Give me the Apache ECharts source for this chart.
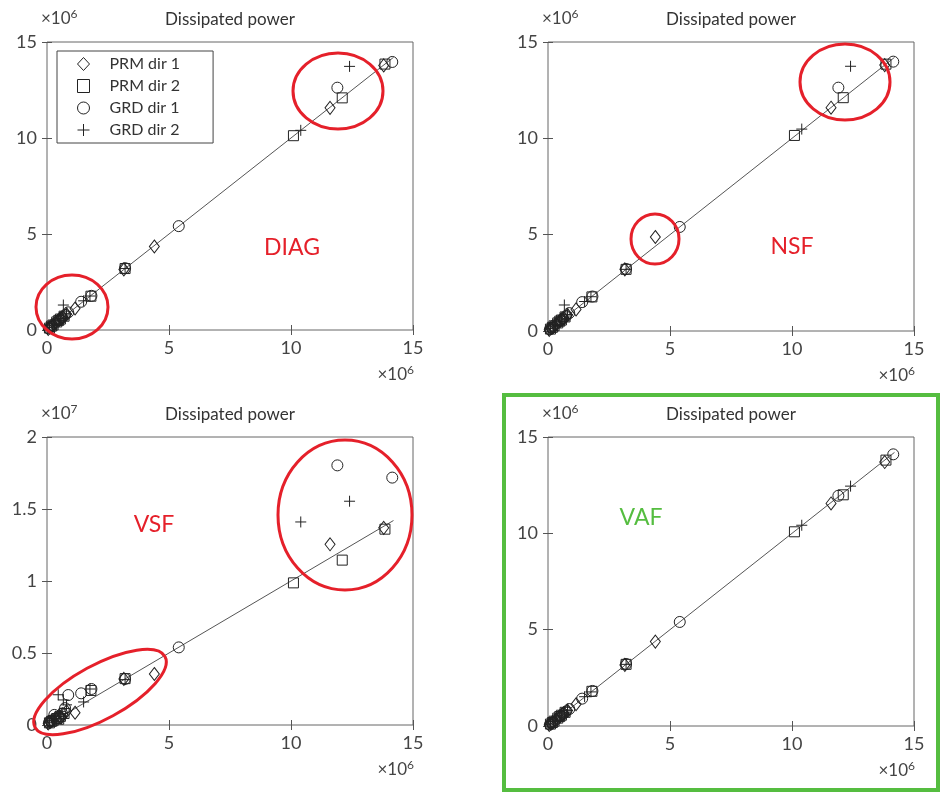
<!DOCTYPE html>
<html><head><meta charset="utf-8">
<script src="https://cdn.jsdelivr.net/npm/echarts@6/dist/echarts.min.js"></script>
<style>html,body{margin:0;padding:0;background:#fff}#c{width:940px;height:792px}</style>
</head><body><div id="c"></div>
<script>
// ---- DATA (values in units of 10^6) ----
const seriesNames = ['PRM dir 1', 'PRM dir 2', 'GRD dir 1', 'GRD dir 2'];
const panelLabels = ['DIAG', 'NSF', 'VSF', 'VAF'];
const panelTitle = 'Dissipated power';
const xTicks = [0, 5, 10, 15];
const yTicks = [0, 5, 10, 15];
const yTicksVSF = [0, 0.5, 1, 1.5, 2];

// reference (x) values per series
const xPRM1 = [0.05, 0.12, 0.2, 0.35, 0.5, 0.58, 0.65, 0.8, 1.15, 3.15, 4.4, 11.6, 13.8];
const xPRM2 = [0.1, 0.18, 0.25, 0.4, 0.48, 0.55, 0.7, 1.8, 3.2, 10.1, 12.1, 13.85];
const xGRD1 = [0.08, 0.15, 0.3, 0.5, 0.62, 0.74, 0.87, 1.4, 1.82, 3.2, 5.4, 11.9, 14.15];
const xGRD2 = [0.1, 0.22, 0.3, 0.46, 0.55, 0.67, 0.8, 1.5, 1.76, 3.2, 10.4, 12.4];

// DIAG
const yDiagPRM1 = [0.05, 0.13, 0.22, 0.38, 0.52, 0.6, 0.66, 0.82, 1.12, 3.15, 4.35, 11.57, 13.78];
const yDiagPRM2 = [0.1, 0.2, 0.26, 0.42, 0.5, 0.57, 0.72, 1.76, 3.2, 10.12, 12.09, 13.85];
const yDiagGRD1 = [0.08, 0.16, 0.33, 0.52, 0.66, 0.78, 0.92, 1.47, 1.78, 3.22, 5.41, 12.62, 13.96];
const yDiagGRD2 = [0.12, 0.25, 0.32, 0.5, 0.6, 1.3, 0.84, 1.52, 1.77, 3.2, 10.4, 13.73];
// NSF
const yNsfPRM1 = [0.06, 0.14, 0.2, 0.37, 0.52, 0.61, 0.66, 0.83, 1.12, 3.2, 4.88, 11.59, 13.8];
const yNsfPRM2 = [0.1, 0.19, 0.27, 0.42, 0.51, 0.57, 0.73, 1.77, 3.2, 10.15, 12.11, 13.85];
const yNsfGRD1 = [0.09, 0.17, 0.34, 0.53, 0.66, 0.78, 0.93, 1.5, 1.79, 3.22, 5.4, 12.63, 13.98];
const yNsfGRD2 = [0.12, 0.26, 0.33, 0.5, 0.62, 1.35, 0.85, 1.53, 1.78, 3.2, 10.48, 13.74];
// VSF
const yVsfPRM1 = [0.1, 0.2, 0.3, 0.5, 0.6, 0.55, 0.75, 0.95, 0.85, 3.2, 3.54, 12.55, 13.69];
const yVsfPRM2 = [0.15, 0.25, 0.3, 0.45, 0.4, 0.6, 0.8, 2.4, 3.22, 9.87, 11.45, 13.6];
const yVsfGRD1 = [0.15, 0.3, 0.7, 0.5, 0.8, 1.17, 2.08, 2.2, 2.5, 3.2, 5.39, 18.03, 17.18];
const yVsfGRD2 = [0.2, 0.3, 0.45, 2.1, 0.6, 1.74, 1.4, 1.6, 2.5, 3.15, 14.1, 15.54];
// VAF
const yVafPRM1 = [0.05, 0.12, 0.2, 0.36, 0.5, 0.59, 0.66, 0.8, 1.13, 3.17, 4.38, 11.55, 13.7];
const yVafPRM2 = [0.1, 0.18, 0.25, 0.41, 0.49, 0.56, 0.71, 1.8, 3.2, 10.08, 12.0, 13.8];
const yVafGRD1 = [0.08, 0.15, 0.31, 0.51, 0.63, 0.75, 0.88, 1.42, 1.82, 3.22, 5.4, 11.95, 14.1];
const yVafGRD2 = [0.1, 0.23, 0.3, 0.47, 0.56, 0.68, 0.81, 1.52, 1.77, 3.2, 10.42, 12.45];

// reference diagonal line
const lineX = [0, 14.2];
const lineY = [0, 14.2];

// ---- BUILD ----
const xs = [xPRM1, xPRM2, xGRD1, xGRD2];
const ys = [
  [yDiagPRM1, yDiagPRM2, yDiagGRD1, yDiagGRD2],
  [yNsfPRM1, yNsfPRM2, yNsfGRD1, yNsfGRD2],
  [yVsfPRM1, yVsfPRM2, yVsfGRD1, yVsfGRD2],
  [yVafPRM1, yVafPRM2, yVafGRD1, yVafGRD2]
];
const FONT = 'Lato';
const INK = '#222';
const grids = [
  {left: 47, top: 42, width: 366, height: 288},
  {left: 548, top: 42, width: 366, height: 289},
  {left: 47, top: 437, width: 366, height: 288},
  {left: 548, top: 437, width: 366, height: 289}
];
const symbols = ['diamond', 'rect', 'circle', 'path://M5,0 L5,10 M0,5 L10,5'];
const sizes = [[10, 13], 10, 11, 11];

const xAxis = [], yAxis = [], series = [];
const tickStyle = {show: true, inside: true, length: 5, lineStyle: {color: '#555', width: 1}};
grids.forEach((g, i) => {
  const isVSF = i === 2;
  const yMax = isVSF ? yTicksVSF[yTicksVSF.length - 1] * 10 : yTicks[yTicks.length - 1];
  const base = {gridIndex: i, type: 'value', min: xTicks[0], max: xTicks[xTicks.length - 1], interval: 5,
    splitLine: {show: false}, axisLine: {show: false}, axisTick: tickStyle};
  xAxis.push(Object.assign({}, base, {position: 'bottom',
    axisLabel: {fontFamily: FONT, fontSize: 18, color: '#444', margin: 9}}));
  xAxis.push(Object.assign({}, base, {position: 'top', axisLabel: {show: false}}));
  const ybase = {gridIndex: i, type: 'value', min: 0, max: yMax, interval: 5,
    splitLine: {show: false}, axisLine: {show: false}, axisTick: tickStyle};
  yAxis.push(Object.assign({}, ybase, {position: 'left',
    axisLabel: {fontFamily: FONT, fontSize: 18, color: '#444', margin: 10,
      formatter: v => isVSF ? String(v / 10) : String(v)}}));
  yAxis.push(Object.assign({}, ybase, {position: 'right', axisLabel: {show: false}}));

  series.push({
    type: 'line', name: 'diag' + i, xAxisIndex: 2 * i, yAxisIndex: 2 * i,
    data: lineX.map((x, k) => [x, lineY[k]]), symbol: 'none', silent: true,
    lineStyle: {color: '#555', width: 1}, z: 1
  });
  seriesNames.forEach((n, s) => {
    series.push({
      type: 'scatter', name: n, xAxisIndex: 2 * i, yAxisIndex: 2 * i,
      data: xs[s].map((x, k) => [x, ys[i][s][k]]),
      symbol: symbols[s], symbolSize: sizes[s],
      itemStyle: {color: 'transparent', borderColor: INK, borderWidth: 1, opacity: 1},
      z: 2
    });
  });
});

const graphic = [];
const rich = {a: {fontFamily: FONT, fontSize: 17, fill: '#444'},
  b: {fontFamily: FONT, fontSize: 12, fill: '#444', verticalAlign: 'top', padding: [0, 0, 9, 0]}};
grids.forEach((g, i) => {
  const cx = g.left + g.width / 2;
  graphic.push({type: 'text', x: cx, y: g.top - 31, style: {text: panelTitle, fontFamily: FONT,
    fontSize: 17, fill: '#333', align: 'center', verticalAlign: 'top'}});
  const exp = i === 2 ? '7' : '6';
  graphic.push({type: 'text', x: g.left - 6, y: g.top - 13, style: {
    text: '{a|×10}{b|' + exp + '}', verticalAlign: 'bottom', align: 'left', rich}});
  graphic.push({type: 'text', x: g.left + g.width + 1, y: g.top + g.height + 55, style: {
    text: '{a|×10}{b|6}', verticalAlign: 'bottom', align: 'right', rich}});
});
// panel labels
const RED = '#e5202a', GREEN = '#55bd40';
const labelPos = [[292, 248, RED], [792, 247, RED], [154, 525, RED], [641, 518, GREEN]];
labelPos.forEach((p, i) => graphic.push({type: 'text', x: p[0], y: p[1], style: {text: panelLabels[i],
  fontFamily: FONT, fontSize: 23, fill: p[2], align: 'center', verticalAlign: 'middle'}}));
// annotation ellipses
const ell = [[338, 91, 45, 38, 0], [72, 307, 36, 32, 0], [845, 82, 45, 38, 0], [655, 239, 24, 25, 0],
  [345, 515, 67, 75, 0], [100, 692, 74, 27, 0.5]];
ell.forEach(e => graphic.push({type: 'ellipse', x: e[0], y: e[1], rotation: e[4], shape: {cx: 0, cy: 0, rx: e[2], ry: e[3]},
  style: {fill: 'none', stroke: RED, lineWidth: 3}, z: 100}));
graphic.push({type: 'rect', shape: {x: 504, y: 395, width: 434, height: 395},
  style: {fill: 'none', stroke: GREEN, lineWidth: 4}, z: 100});

const chart = echarts.init(document.getElementById('c'), null, {renderer: 'canvas'});
chart.setOption({
  backgroundColor: '#fff',
  animation: false,
  grid: grids.map(g => Object.assign({show: true, borderColor: '#666', borderWidth: 1, backgroundColor: 'transparent'}, g)),
  xAxis, yAxis, series,
  legend: {
    data: seriesNames, orient: 'vertical', left: 57, top: 51,
    itemWidth: 12, itemHeight: 13, itemGap: 6,
    padding: [5, 33, 5, 20],
    borderColor: '#444', borderWidth: 1, backgroundColor: '#fff',
    itemStyle: {color: 'transparent', borderColor: INK, borderWidth: 1},
    textStyle: {fontFamily: FONT, fontSize: 16, color: '#333', padding: [0, 0, 0, 15]},
    selectedMode: false
  },
  graphic
});
</script></body></html>
